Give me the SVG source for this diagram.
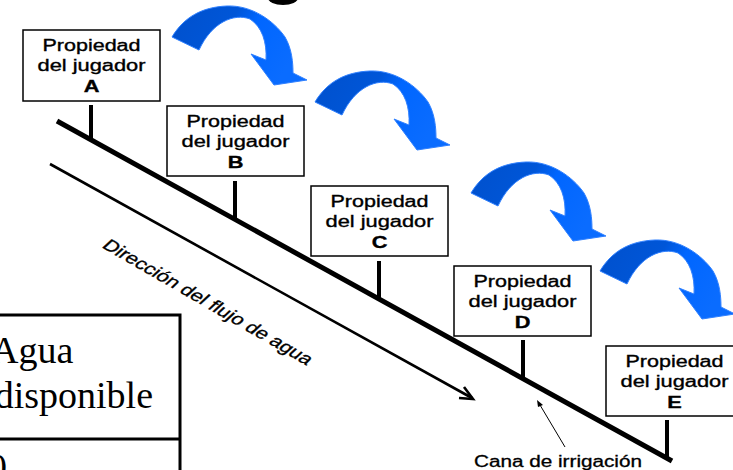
<svg xmlns="http://www.w3.org/2000/svg" width="733" height="470" viewBox="0 0 733 470">
<style>
.box{fill:#fff;stroke:#000;stroke-width:1.5}
.t{font-family:"Liberation Sans",Arial,sans-serif;font-size:16px;fill:#000;stroke:#000;stroke-width:0.35;text-anchor:middle}
.b{font-weight:bold}
.stem{stroke:#000;stroke-width:4;fill:none}
.serif{font-family:"Liberation Serif","Times New Roman",serif;font-size:38px;fill:#000}
.lbl{font-family:"Liberation Sans",Arial,sans-serif;font-size:16px;fill:#000;stroke:#000;stroke-width:0.3}
</style>
<defs>
<linearGradient id="blue" x1="0" y1="0" x2="1" y2="0.35">
<stop offset="0" stop-color="#0050cc"/>
<stop offset="0.45" stop-color="#0056d8"/>
<stop offset="0.62" stop-color="#0066ff"/>
<stop offset="1" stop-color="#0a6cff"/>
</linearGradient>
<path id="curl" d="M0,0 C12,-20 30,-30 55,-31 C80,-32 102,-16 113,0 C120,12 121,26 121,36 L135,43 L102,48 L79,17 L94,23 C95,5 90,-10 78,-18 C62,-24 40,-15 27,13 Z" fill="url(#blue)" stroke="#2f80ff" stroke-width="1"/>
</defs>
<rect width="733" height="470" fill="#fff"/>
<ellipse cx="283" cy="-2" rx="15" ry="7" fill="#000"/>

<g id="flow-arrows">
<use href="#curl" x="172" y="37"/>
<use href="#curl" x="315" y="102"/>
<use href="#curl" x="471" y="193"/>
<use href="#curl" x="600" y="271"/>
</g>

<g id="connectors">
<line x1="57" y1="121" x2="672" y2="461" stroke="#000" stroke-width="5"/>
<line class="stem" x1="91" y1="105" x2="91" y2="140"/>
<line class="stem" x1="235" y1="181" x2="235" y2="219"/>
<line class="stem" x1="379" y1="261" x2="379" y2="299"/>
<line class="stem" x1="523" y1="340" x2="523" y2="379"/>
<line class="stem" x1="667" y1="420" x2="667" y2="459"/>
<line x1="50" y1="164" x2="472" y2="398" stroke="#000" stroke-width="2.6"/>
<polyline points="459,398 473,399 464,387" fill="none" stroke="#000" stroke-width="2.6"/>
<line x1="565" y1="447" x2="540" y2="405" stroke="#000" stroke-width="1"/>
<polygon points="537,400 543,405 538,407" fill="#000"/>
</g>

<g id="node-A">
<rect class="box" x="23" y="30" width="137" height="71"/>
<text class="t" x="91.5" y="51" textLength="98" lengthAdjust="spacingAndGlyphs">Propiedad</text>
<text class="t" x="91.5" y="71" textLength="108" lengthAdjust="spacingAndGlyphs">del jugador</text>
<text class="t b" x="91.5" y="92" textLength="15.7" lengthAdjust="spacingAndGlyphs">A</text>
</g>
<g id="node-B">
<rect class="box" x="167" y="106" width="137" height="70"/>
<text class="t" x="235.5" y="127" textLength="98" lengthAdjust="spacingAndGlyphs">Propiedad</text>
<text class="t" x="235.5" y="147" textLength="108" lengthAdjust="spacingAndGlyphs">del jugador</text>
<text class="t b" x="235.5" y="168" textLength="15.7" lengthAdjust="spacingAndGlyphs">B</text>
</g>
<g id="node-C">
<rect class="box" x="311" y="186" width="137" height="70"/>
<text class="t" x="379.5" y="207" textLength="98" lengthAdjust="spacingAndGlyphs">Propiedad</text>
<text class="t" x="379.5" y="227" textLength="108" lengthAdjust="spacingAndGlyphs">del jugador</text>
<text class="t b" x="379.5" y="248" textLength="15.7" lengthAdjust="spacingAndGlyphs">C</text>
</g>
<g id="node-D">
<rect class="box" x="454" y="266" width="137" height="70"/>
<text class="t" x="522.5" y="287" textLength="98" lengthAdjust="spacingAndGlyphs">Propiedad</text>
<text class="t" x="522.5" y="307" textLength="108" lengthAdjust="spacingAndGlyphs">del jugador</text>
<text class="t b" x="522.5" y="328" textLength="15.7" lengthAdjust="spacingAndGlyphs">D</text>
</g>
<g id="node-E">
<rect class="box" x="606" y="346" width="137" height="70"/>
<text class="t" x="674.5" y="367" textLength="98" lengthAdjust="spacingAndGlyphs">Propiedad</text>
<text class="t" x="674.5" y="387" textLength="108" lengthAdjust="spacingAndGlyphs">del jugador</text>
<text class="t b" x="674.5" y="408" textLength="14.5" lengthAdjust="spacingAndGlyphs">E</text>
</g>

<g id="label-flow">
<text class="lbl" transform="translate(101,247) scale(1.36,1) rotate(38.1)" font-size="16" textLength="192" lengthAdjust="spacingAndGlyphs">Dirección del flujo de agua</text>
</g>
<g id="label-canal">
<text class="lbl" x="474" y="467" textLength="168" lengthAdjust="spacingAndGlyphs">Cana de irrigación</text>
</g>

<g id="table">
<rect x="-10" y="315" width="190" height="170" fill="#fff" stroke="#000" stroke-width="3"/>
<line x1="-10" y1="439" x2="180" y2="439" stroke="#000" stroke-width="3"/>
<text class="serif" x="-9" y="363">Agua</text>
<text class="serif" x="153" y="408" text-anchor="end">disponible</text>
<text class="serif" x="-12" y="480">0</text>
</g>
</svg>
